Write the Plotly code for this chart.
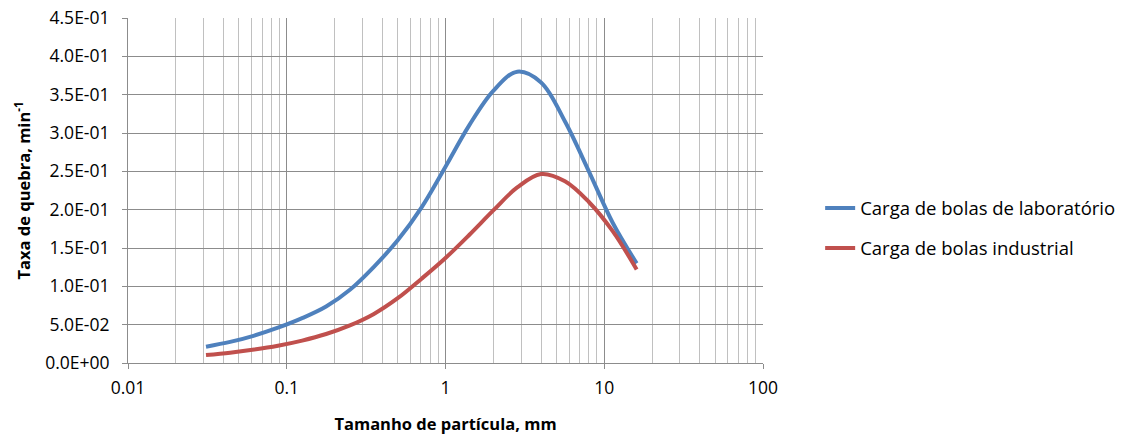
import plotly.graph_objects as go

# Particle sizes (mm)
sizes = [0.031, 0.044, 0.0625, 0.088, 0.125, 0.177, 0.25, 0.354, 0.5, 0.707,
         1.0, 1.41, 2.0, 2.83, 4.0, 5.66, 8.0, 11.3, 16.0]
# Breakage rate (min^-1)
lab = [0.0213, 0.0275, 0.0358, 0.046, 0.0585, 0.0737, 0.0955, 0.1255, 0.160, 0.203,
       0.256, 0.310, 0.355, 0.380, 0.366, 0.315, 0.250, 0.183, 0.130]
ind = [0.0104, 0.0135, 0.0175, 0.0225, 0.0292, 0.0378, 0.0490, 0.0640, 0.0845, 0.110,
       0.137, 0.167, 0.199, 0.229, 0.2465, 0.237, 0.210, 0.172, 0.122]

series_names = ["Carga de bolas de laboratório", "Carga de bolas industrial"]
x_ticks = [0.01, 0.1, 1, 10, 100]
x_tick_text = ["0.01", "0.1", "1", "10", "100"]
y_ticks = [0, 0.05, 0.1, 0.15, 0.2, 0.25, 0.3, 0.35, 0.4, 0.45]
y_tick_text = ["0.0E+00", "5.0E-02", "1.0E-01", "1.5E-01", "2.0E-01",
               "2.5E-01", "3.0E-01", "3.5E-01", "4.0E-01", "4.5E-01"]

minor_x = [m * 10 ** k for k in range(-2, 2) for m in range(2, 10)]

FONT = "Open Sans, Carlito, Calibri, sans-serif"

fig = go.Figure()
fig.add_trace(go.Scatter(x=sizes, y=lab, mode="lines", name=series_names[0],
                         line=dict(color="#4F81BD", width=4, shape="spline",
                                   smoothing=1),
                         legendgroup="a"))
fig.add_trace(go.Scatter(x=sizes, y=ind, mode="lines", name=series_names[1],
                         line=dict(color="#C0504D", width=4, shape="spline",
                                   smoothing=1),
                         legendgroup="b"))

fig.update_layout(
    width=1124, height=435,
    margin=dict(l=128, r=361, t=18, b=72, autoexpand=False),
    paper_bgcolor="white", plot_bgcolor="white",
    font=dict(family=FONT, size=17.5, color="black"),
    legend=dict(x=1.09, y=0.39, xanchor="left", yanchor="middle",
                traceorder="grouped", tracegroupgap=13,
                font=dict(family=FONT, size=18.5, color="black")),
    xaxis=dict(
        type="log", range=[-2, 2],
        tickmode="array", tickvals=x_ticks, ticktext=x_tick_text,
        showgrid=True, gridcolor="#8C8C8C", gridwidth=1,
        showline=True, linecolor="#8C8C8C", linewidth=1,
        ticks="outside", ticklen=5, tickcolor="#8C8C8C",
        ticklabelstandoff=4,
        zeroline=False, automargin=False,
        minor=dict(tickmode="array", tickvals=minor_x, showgrid=True,
                   gridcolor="#C0C0C0", gridwidth=1, ticks=""),
        title=dict(text="<b>Tamanho de partícula, mm</b>", standoff=20,
                   font=dict(family=FONT, size=16.5)),
        tickfont=dict(family=FONT, size=17.5),
    ),
    yaxis=dict(
        range=[0, 0.45],
        tickmode="array", tickvals=y_ticks, ticktext=y_tick_text,
        showgrid=True, gridcolor="#8C8C8C", gridwidth=1,
        showline=True, linecolor="#8C8C8C", linewidth=1,
        ticks="outside", ticklen=5, tickcolor="#8C8C8C",
        ticklabelstandoff=9,
        zeroline=False, automargin=False,
        title=dict(text="<b>Taxa de quebra, min<sup>-1</sup></b>", standoff=10,
                   font=dict(family=FONT, size=16.5)),
        tickfont=dict(family=FONT, size=17.5),
    ),
)

fig.write_html("out.html")
